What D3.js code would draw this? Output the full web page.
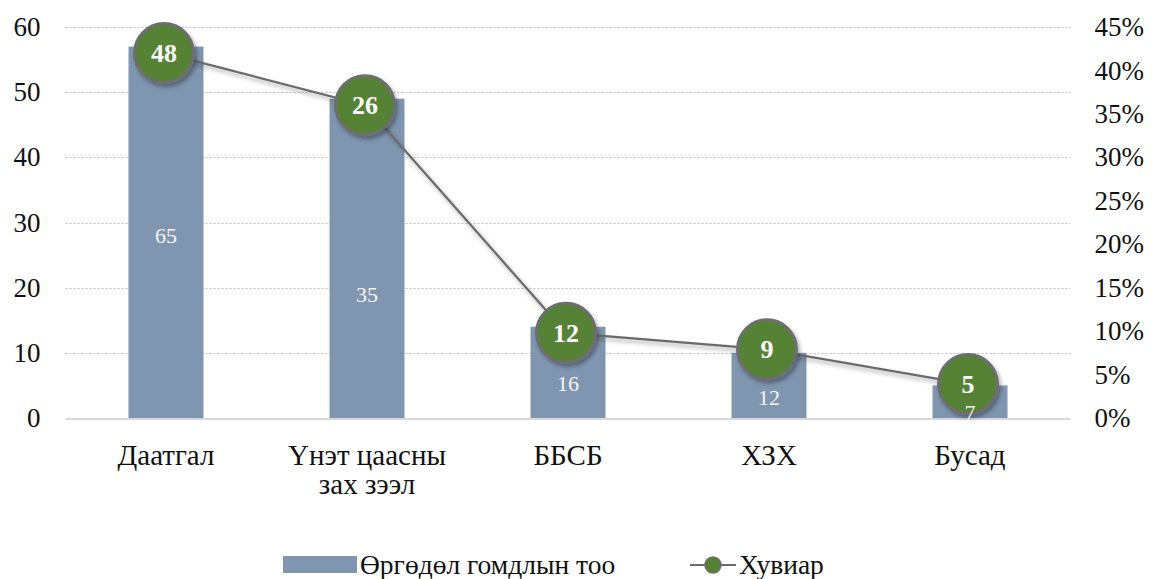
<!DOCTYPE html>
<html lang="mn">
<head>
<meta charset="UTF-8">
<title>Өргөдөл гомдол</title>
<script src="https://cdn.jsdelivr.net/npm/d3@7.8.4/dist/d3.min.js"></script>
<style>
  body { margin: 0; background: #fff; }
  svg text { font-family: "Liberation Serif", "Times New Roman", Times, serif !important; }
  .grid line { stroke: #bfbfbf; stroke-dasharray: 2,2; }
</style>
</head>
<body>
<svg id="chart" width="1152" height="579"></svg>
<script>
// data
const categories = ["Даатгал", "Үнэт цаасны|зах зээл", "ББСБ", "ХЗХ", "Бусад"];
const counts = [57, 49, 14, 10, 5];             // bar heights on left axis
const countLabels = [65, 35, 16, 12, 7];        // numbers printed on bars
const countLabelLevel = [28, 19, 5.3, 3.1, 0.9]; // where those numbers sit, left-axis units
const shares = [0.42, 0.36, 0.098, 0.079, 0.039]; // line values, right axis
const shareLabels = [48, 26, 12, 9, 5];
const leftTicks = [0, 10, 20, 30, 40, 50, 60];
const rightTicks = d3.range(0, 0.46, 0.05);

const svg = d3.select("#chart");
const x0 = 65.5, x1 = 1070.5, yBase = 418, yTop = 27;

const x = d3.scaleBand().domain(categories).range([x0, x1]).paddingInner(0.627).paddingOuter(0.3135);
const y = d3.scaleLinear().domain([0, 60]).range([yBase, yTop]);
const y2 = d3.scaleLinear().domain([0, 0.45]).range([yBase, yTop]);

const defs = svg.append("defs");
const sh = defs.append("filter").attr("id", "shadow").attr("x", "-30%").attr("y", "-30%").attr("width", "170%").attr("height", "170%");
sh.append("feDropShadow").attr("dx", 2).attr("dy", 3).attr("stdDeviation", 2.2).attr("flood-color", "#000").attr("flood-opacity", 0.35);

// gridlines
svg.append("g").attr("class", "grid")
  .selectAll("line").data(leftTicks.slice(1)).join("line")
  .attr("x1", x0).attr("x2", x1)
  .attr("y1", d => Math.round(y(d)) + 0.5).attr("y2", d => Math.round(y(d)) + 0.5);

// left axis
const ay = svg.append("g").attr("transform", `translate(${x0 - 25},0)`)
  .call(d3.axisLeft(y).tickValues(leftTicks).tickSize(0).tickPadding(0));
ay.select(".domain").remove();
ay.selectAll("text").attr("font-size", 27).attr("fill", "#111");

// right axis
const ay2 = svg.append("g").attr("transform", `translate(${x1 + 24},0)`)
  .call(d3.axisRight(y2).tickValues(rightTicks).tickFormat(d3.format(".0%")).tickSize(0).tickPadding(0));
ay2.select(".domain").remove();
ay2.selectAll("text").attr("font-size", 27).attr("fill", "#111");

// bars
svg.append("g").selectAll("rect").data(counts).join("rect")
  .attr("x", (d, i) => x(categories[i]))
  .attr("width", x.bandwidth())
  .attr("y", d => y(d))
  .attr("height", d => yBase - y(d))
  .attr("fill", "#8096b0");

// baseline
svg.append("line").attr("x1", x0).attr("x2", x1).attr("y1", yBase + 1).attr("y2", yBase + 1)
  .attr("stroke", "#d9d9d9").attr("stroke-width", 2);

// line
const cx = (d, i) => x(categories[i]) + x.bandwidth() / 2 - 2;
const line = d3.line().x(cx).y(d => y2(d));
svg.append("path").datum(shares)
  .attr("d", line)
  .attr("fill", "none")
  .attr("stroke", "#6b6b6b")
  .attr("stroke-width", 2.2)
  .attr("filter", "url(#shadow)");

const mk = svg.append("g").selectAll("g").data(shares).join("g")
  .attr("transform", (d, i) => `translate(${cx(d, i)},${y2(d)})`);
mk.append("circle").attr("r", 29.5)
  .attr("fill", "#548235")
  .attr("stroke", "#6e6e6e")
  .attr("stroke-width", 3)
  .attr("filter", "url(#shadow)");
mk.append("text")
  .attr("text-anchor", "middle")
  .attr("dy", "0.35em")
  .attr("font-size", 26)
  .attr("font-weight", "bold")
  .attr("fill", "#fff")
  .text((d, i) => shareLabels[i]);

// bar labels, drawn above the markers
svg.append("g").selectAll("text").data(countLabels).join("text")
  .attr("x", (d, i) => x(categories[i]) + x.bandwidth() / 2)
  .attr("y", (d, i) => y(countLabelLevel[i]))
  .attr("dy", "0.35em")
  .attr("text-anchor", "middle")
  .attr("font-size", 22)
  .attr("fill", "#f4f4f4")
  .text(d => d);

// category labels
const cl = svg.append("g").selectAll("text").data(categories).join("text")
  .attr("x", d => x(d) + x.bandwidth() / 2)
  .attr("y", 465)
  .attr("text-anchor", "middle")
  .attr("font-size", 29)
  .attr("fill", "#111");
cl.each(function(d) {
  const parts = d.split("|");
  const t = d3.select(this);
  parts.forEach((p, k) => {
    t.append("tspan").attr("x", t.attr("x")).attr("dy", k === 0 ? 0 : 29).text(p);
  });
});

// legend
const lg = svg.append("g");
lg.append("rect").attr("x", 283).attr("y", 556).attr("width", 74).attr("height", 17).attr("fill", "#8096b0");
lg.append("text").attr("x", 360).attr("y", 574).attr("font-size", 27.5).attr("fill", "#111").text("Өргөдөл гомдлын тоо");
lg.append("line").attr("x1", 690).attr("x2", 736).attr("y1", 565).attr("y2", 565).attr("stroke", "#6b6b6b").attr("stroke-width", 2);
lg.append("circle").attr("cx", 713).attr("cy", 565).attr("r", 8).attr("fill", "#548235").attr("stroke", "#6e6e6e").attr("stroke-width", 1.5);
lg.append("text").attr("x", 739).attr("y", 574).attr("font-size", 27.5).attr("fill", "#111").text("Хувиар");
</script>
</body>
</html>
